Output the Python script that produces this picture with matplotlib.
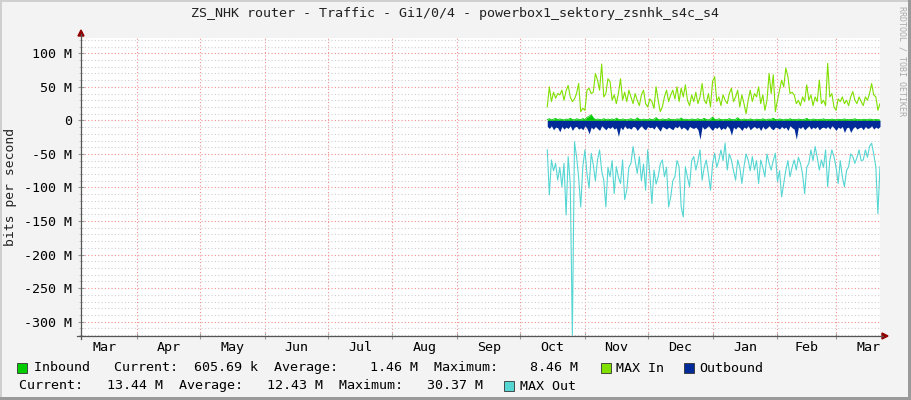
import matplotlib
matplotlib.use("Agg")
import matplotlib.pyplot as plt
from matplotlib.lines import Line2D
from matplotlib.patches import Rectangle, Polygon
import pandas as pd

plt.rcParams['font.family'] = ['DejaVu Sans Mono']

W, H = 911, 400

title = "ZS_NHK router - Traffic - Gi1/0/4 - powerbox1_sektory_zsnhk_s4c_s4"

# daily samples, values in Mbit/s
days = pd.date_range("2013-10-14", periods=160, freq="D")

max_in = [20, 50, 28, 42, 33, 40, 38, 45, 30, 44,
          52, 35, 28, 32, 40, 55, 13, 18, 15, 45,
          48, 40, 42, 70, 60, 45, 84, 35, 40, 62,
          58, 30, 38, 25, 40, 62, 30, 42, 28, 45,
          35, 25, 40, 30, 22, 38, 45, 25, 20, 32,
          28, 18, 50, 30, 13, 20, 35, 45, 28, 38,
          45, 32, 50, 28, 48, 35, 53, 30, 22, 38,
          28, 42, 25, 35, 55, 30, 25, 40, 20, 58,
          65, 28, 35, 22, 38, 30, 25, 40, 48, 28,
          35, 45, 20, 38, 25, 10, 30, 45, 28, 40,
          35, 50, 25, 38, 15, 30, 70, 40, 68, 13,
          30, 45, 60, 50, 78, 65, 40, 42, 38, 25,
          30, 22, 35, 28, 53, 30, 38, 22, 35, 28,
          60, 25, 30, 22, 85, 35, 40, 20, 15, 32,
          28, 35, 25, 30, 22, 35, 43, 30, 25, 35,
          28, 22, 35, 30, 40, 55, 38, 35, 15, 25]

max_out = [-44, -111, -59, -75, -64, -89, -70, -99, -64, -141,
           -54, -94, -320, -32, -54, -85, -129, -69, -44, -80,
           -101, -49, -66, -90, -59, -44, -75, -89, -129, -70,
           -84, -60, -109, -69, -85, -94, -59, -118, -104, -70,
           -64, -39, -60, -79, -54, -90, -65, -104, -44, -80,
           -124, -74, -95, -84, -65, -59, -84, -70, -129, -114,
           -90, -84, -60, -69, -129, -144, -69, -85, -99, -60,
           -54, -74, -60, -44, -89, -70, -59, -80, -104, -65,
           -49, -70, -59, -44, -60, -34, -74, -50, -59, -75,
           -89, -59, -70, -94, -69, -50, -59, -75, -54, -74,
           -60, -94, -59, -70, -84, -50, -64, -74, -60, -49,
           -91, -75, -114, -94, -74, -60, -84, -70, -59, -74,
           -55, -64, -80, -109, -70, -64, -44, -60, -39, -55,
           -74, -59, -70, -44, -99, -60, -44, -54, -70, -94,
           -60, -84, -99, -75, -69, -50, -54, -64, -55, -44,
           -60, -59, -44, -55, -39, -34, -50, -69, -139, -69]

inbound = [1.2, 2.5, 0.8, 1.8, 3.0, 1.0, 2.2, 1.5, 0.7, 2.0,
           1.4, 3.2, 1.1, 0.9, 2.4, 1.6, 1.0, 2.8, 1.3, 4.5,
           6.0, 8.5, 3.5, 1.2, 2.0, 1.5, 0.8, 2.6, 1.1, 1.9,
           1.3, 2.2, 0.9, 3.4, 1.6, 1.0, 2.1, 1.4, 0.8, 1.7,
           2.5, 1.2, 1.0, 3.8, 1.5, 0.9, 2.0, 1.3, 1.1, 2.4,
           1.0, 1.8, 4.2, 1.3, 0.9, 2.1, 1.5, 1.0, 2.7, 1.2,
           1.6, 0.8, 2.3, 1.4, 3.6, 1.0, 1.9, 1.2, 0.9, 2.2,
           1.4, 1.1, 2.5, 1.0, 1.6, 3.1, 1.2, 0.8, 2.0, 5.0,
           1.5, 1.0, 2.4, 1.3, 0.9, 1.8, 1.1, 2.6, 1.4, 1.0,
           1.7, 4.0, 1.2, 0.9, 2.0, 1.4, 1.0, 2.3, 1.2, 0.8,
           1.9, 1.3, 1.0, 2.5, 1.1, 0.9, 2.0, 1.5, 3.3, 1.2,
           1.0, 2.2, 1.4, 0.8, 1.8, 1.2, 2.6, 1.0, 1.5, 0.9,
           2.1, 1.3, 1.0, 1.7, 3.0, 1.1, 0.9, 2.0, 1.4, 1.0,
           1.6, 1.2, 2.4, 0.9, 1.5, 1.1, 2.0, 1.3, 0.8, 1.8,
           1.2, 1.0, 2.2, 1.4, 0.9, 1.6, 1.1, 2.5, 1.0, 1.3,
           0.9, 1.7, 1.2, 1.0, 2.0, 1.3, 0.8, 1.5, 1.1, 0.6]

outbound = [-9, -12, -8, -14, -10, -11, -17, -9, -13, -10,
            -12, -8, -15, -10, -9, -13, -11, -14, -8, -12,
            -20, -10, -13, -9, -12, -15, -8, -11, -14, -10,
            -12, -9, -13, -11, -24, -10, -14, -8, -12, -11,
            -13, -9, -10, -15, -11, -8, -12, -14, -9, -11,
            -10, -13, -8, -12, -16, -9, -11, -13, -10, -12,
            -14, -9, -11, -8, -13, -10, -12, -15, -9, -11,
            -12, -10, -14, -28, -9, -13, -11, -8, -12, -15,
            -10, -12, -9, -14, -11, -13, -8, -12, -22, -10,
            -13, -9, -11, -15, -10, -12, -8, -14, -11, -9,
            -12, -10, -15, -9, -13, -11, -8, -12, -14, -10,
            -11, -13, -9, -12, -10, -15, -8, -11, -13, -28,
            -10, -12, -9, -14, -11, -8, -13, -10, -12, -9,
            -14, -11, -10, -12, -9, -13, -8, -11, -15, -10,
            -12, -9, -18, -11, -10, -18, -12, -9, -13, -11,
            -10, -14, -9, -12, -11, -8, -13, -10, -12, -9]

y_ticks = [100, 50, 0, -50, -100, -150, -200, -250, -300]
y_labels = ["100 M", "50 M", "0", "-50 M", "-100 M", "-150 M",
            "-200 M", "-250 M", "-300 M"]
months = ["Mar", "Apr", "May", "Jun", "Jul", "Aug", "Sep",
          "Oct", "Nov", "Dec", "Jan", "Feb", "Mar"]

legend1 = "Inbound   Current:  605.69 k  Average:    1.46 M  Maximum:    8.46 M"
legend2 = "Current:   13.44 M  Average:   12.43 M  Maximum:   30.37 M"


def fx(px):
    return px / W


def fy(py):
    return 1 - py / H


fig = plt.figure(figsize=(W / 100, H / 100), dpi=100, facecolor="#F3F3F3")
ax = fig.add_axes([fx(81), fy(336), 799 / W, 298 / H])
ax.set_facecolor("white")

# data
ax.fill_between(days, 0, inbound, color="#00CC00", lw=0, zorder=3)
ax.plot(days, max_in, color="#80E000", lw=0.8, zorder=4)
ax.fill_between(days, 0, outbound, color="#002A97", lw=0, zorder=5)
ax.plot(days, inbound, color="#00CC00", lw=0.6, zorder=5.5)
ax.plot(days, max_out, color="#55D6D3", lw=0.8, zorder=6)

ax.set_ylim(-321.4, 122.8)
ax.set_xlim(pd.Timestamp("2013-03-05 05:00"), pd.Timestamp("2014-03-22"))

# grid
ax.set_yticks(y_ticks)
ax.set_yticklabels(y_labels)
ax.set_yticks(range(-320, 121, 10), minor=True)
month_starts = pd.date_range("2013-03-01", "2014-04-01", freq="MS")
mids = month_starts[:-1] + (month_starts[1:] - month_starts[:-1]) / 2
ax.set_xticks(month_starts[1:-1])
ax.set_xticklabels([""] * len(month_starts[1:-1]))
ax.set_xticks(mids, minor=True)
ax.set_xticklabels(months, minor=True)

ax.set_axisbelow(True)
ax.grid(which="minor", axis="y", color="#D0D0D0", linestyle=(0, (1, 2)), lw=0.8)
ax.grid(which="major", axis="y", color="#F09090", linestyle=(0, (1, 2)), lw=0.8)
ax.grid(which="major", axis="x", color="#F09090", linestyle=(0, (1, 2)), lw=0.8)

ax.tick_params(axis="y", which="major", direction="inout", length=4,
               color="#999999", labelsize=9.6, pad=4.5)
ax.tick_params(axis="y", which="minor", direction="inout", length=3,
               color="#BBBBBB")
ax.tick_params(axis="x", which="major", direction="inout", length=4,
               color="#999999")
ax.tick_params(axis="x", which="minor", length=0, labelsize=9.6, pad=3.5)
for s in ax.spines.values():
    s.set_visible(False)

# axis lines and arrows
fig.add_artist(Line2D([fx(81), fx(81)], [fy(339), fy(34)], color="#555555", lw=0.9))
fig.add_artist(Line2D([fx(77), fx(883)], [fy(336), fy(336)], color="#555555", lw=0.9))
fig.add_artist(Polygon([(fx(81), fy(30)), (fx(78), fy(36)), (fx(84), fy(36))],
                       closed=True, color="#900000"))
fig.add_artist(Polygon([(fx(888), fy(336)), (fx(882), fy(333)), (fx(882), fy(339))],
                       closed=True, color="#900000"))

# texts
fig.text(fx(455), fy(14), title, ha="center", va="center", fontsize=9.6, color="#222222")
fig.text(fx(11), fy(187), "bits per second", rotation=90, ha="center",
         va="center", fontsize=9.4, color="#222222")
fig.text(fx(902), fy(61), "RRDTOOL / TOBI OETIKER", rotation=270, ha="center",
         va="center", fontsize=6.0, color="#AAAAAA")

# legend
fig.text(fx(34), fy(368), legend1, ha="left", va="center", fontsize=9.6)
fig.text(fx(19), fy(386), legend2, ha="left", va="center", fontsize=9.6)
fig.text(fx(616), fy(368), "MAX In", ha="left", va="center", fontsize=9.6)
fig.text(fx(699), fy(368), "Outbound", ha="left", va="center", fontsize=9.6)
fig.text(fx(520), fy(386), "MAX Out", ha="left", va="center", fontsize=9.6)
for bx, by, col in [(17, 368, "#00CC00"), (601, 368, "#80E000"),
                    (684, 368, "#002A97"), (504, 386, "#55D6D3")]:
    fig.add_artist(Rectangle((fx(bx), fy(by + 5)), 10 / W, 10 / H,
                             facecolor=col, edgecolor="#333333", lw=0.6))

# frame
fig.add_artist(Rectangle((0, fy(2)), 1, 2 / H, color="#CFCFCF", lw=0))
fig.add_artist(Rectangle((0, 0), 2 / W, 1, color="#CFCFCF", lw=0))
fig.add_artist(Rectangle((1 - 3 / W, 0), 3 / W, 1, color="#9A9A9A", lw=0))
fig.add_artist(Rectangle((0, 0), 1, 3 / H, color="#9A9A9A", lw=0))

fig.savefig("out.png", dpi=100, facecolor=fig.get_facecolor())
